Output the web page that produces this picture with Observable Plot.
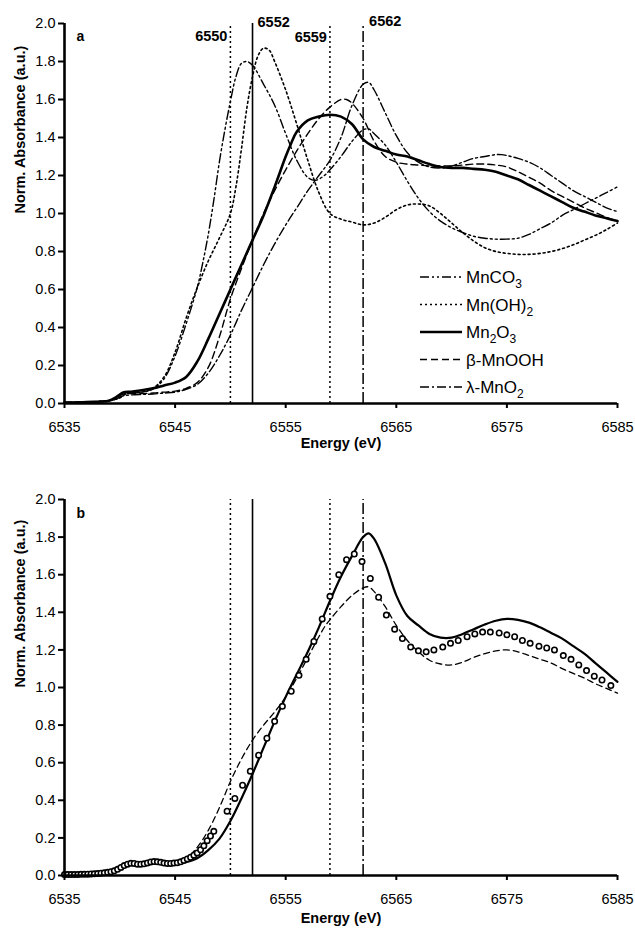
<!DOCTYPE html>
<html><head><meta charset="utf-8">
<script src="https://cdn.jsdelivr.net/npm/d3@7"></script>
<script src="https://cdn.jsdelivr.net/npm/@observablehq/plot@0.6"></script>
<style>
body{margin:0;background:#fff;}
#chart{width:635px;}
#chart svg{display:block;}
</style></head><body><div id="chart"></div>
<script>
// ---------- DATA ----------
const xTicks = [6535, 6545, 6555, 6565, 6575, 6585];
const yTicks = [0, 0.2, 0.4, 0.6, 0.8, 1.0, 1.2, 1.4, 1.6, 1.8, 2.0];
const xTitle = "Energy (eV)";
const yTitle = "Norm. Absorbance (a.u.)";
const panelLetters = ["a", "b"];
const refEnergies = [6550, 6552, 6559, 6562];
const refLabels = ["6550", "6552", "6559", "6562"];
const seriesNames = ["MnCO3", "Mn(OH)2", "Mn2O3", "β-MnOOH", "λ-MnO2"];

// panel a spectra: [energy eV, normalised absorbance]
const mnco3 = [[6535,0.005],[6537,0.008],[6539,0.015],[6540,0.03],[6540.5,0.05],[6541,0.055],[6542,0.06],[6543,0.075],[6544,0.13],[6545,0.25],[6546,0.42],[6547,0.61],[6547.5,0.74],[6548,0.89],[6548.5,1.07],[6549,1.27],[6549.5,1.44],[6550,1.59],[6550.5,1.72],[6551,1.79],[6551.5,1.80],[6552,1.78],[6553,1.68],[6554,1.57],[6555,1.42],[6556,1.28],[6557,1.19],[6557.7,1.175],[6558.5,1.20],[6559,1.23],[6560,1.30],[6561,1.38],[6562,1.44],[6562.5,1.445],[6563,1.42],[6564,1.36],[6565,1.27],[6566,1.17],[6567,1.08],[6568,1.01],[6569,0.96],[6570,0.925],[6571,0.90],[6572,0.88],[6573,0.87],[6574,0.865],[6575,0.865],[6576,0.87],[6577,0.89],[6578,0.92],[6579,0.95],[6580,0.99],[6581,1.02],[6582,1.05],[6583,1.08],[6584,1.11],[6585,1.14]];
const mnoh2 = [[6535,0.005],[6537,0.008],[6539,0.015],[6540,0.03],[6540.5,0.05],[6541,0.055],[6542,0.06],[6543,0.08],[6544,0.14],[6545,0.27],[6546,0.45],[6547,0.61],[6548,0.75],[6549,0.87],[6550,1.0],[6550.5,1.14],[6551,1.34],[6551.5,1.56],[6552,1.72],[6552.5,1.83],[6553,1.87],[6553.5,1.86],[6554,1.80],[6555,1.65],[6556,1.47],[6557,1.28],[6558,1.11],[6559,1.0],[6560,0.97],[6561,0.955],[6562,0.94],[6563,0.95],[6564,0.98],[6565,1.02],[6566,1.045],[6567,1.05],[6568,1.04],[6569,1.0],[6570,0.95],[6571,0.90],[6572,0.855],[6573,0.82],[6574,0.80],[6575,0.79],[6576,0.785],[6577,0.785],[6578,0.79],[6579,0.80],[6580,0.815],[6581,0.835],[6582,0.86],[6583,0.885],[6584,0.915],[6585,0.95]];
const mn2o3 = [[6535,0.005],[6537,0.008],[6539,0.015],[6539.7,0.035],[6540.3,0.058],[6541,0.062],[6542,0.07],[6543,0.08],[6544,0.095],[6545,0.11],[6546,0.14],[6547,0.22],[6548,0.34],[6549,0.47],[6550,0.60],[6551,0.73],[6552,0.86],[6553,0.99],[6554,1.14],[6555,1.30],[6555.5,1.37],[6556,1.43],[6557,1.49],[6558,1.51],[6559,1.52],[6560,1.51],[6561,1.47],[6562,1.39],[6563,1.35],[6564,1.33],[6565,1.31],[6566,1.30],[6567,1.28],[6568,1.26],[6569,1.245],[6570,1.24],[6571,1.24],[6572,1.235],[6573,1.23],[6574,1.22],[6575,1.20],[6576,1.18],[6577,1.15],[6578,1.12],[6579,1.09],[6580,1.06],[6581,1.03],[6582,1.01],[6583,0.99],[6584,0.975],[6585,0.96]];
const bMnooh = [[6535,0.005],[6537,0.008],[6539,0.015],[6539.7,0.03],[6540.3,0.05],[6541,0.052],[6542,0.052],[6543,0.055],[6544,0.06],[6545,0.065],[6546,0.08],[6547,0.11],[6548,0.19],[6549,0.35],[6550,0.55],[6551,0.71],[6552,0.86],[6553,1.0],[6554,1.12],[6555,1.23],[6556,1.33],[6557,1.42],[6558,1.50],[6559,1.56],[6560,1.60],[6560.5,1.60],[6561,1.58],[6562,1.50],[6563,1.38],[6564,1.30],[6565,1.27],[6566,1.26],[6567,1.255],[6568,1.25],[6569,1.25],[6570,1.25],[6571,1.255],[6572,1.26],[6573,1.26],[6574,1.255],[6575,1.245],[6576,1.22],[6577,1.19],[6578,1.16],[6579,1.12],[6580,1.09],[6581,1.06],[6582,1.03],[6583,1.005],[6584,0.98],[6585,0.96]];
const lMno2 = [[6535,0.005],[6537,0.008],[6539,0.015],[6539.7,0.025],[6540.3,0.04],[6541,0.045],[6542,0.048],[6543,0.05],[6544,0.055],[6545,0.06],[6546,0.075],[6547,0.10],[6548,0.16],[6549,0.25],[6550,0.36],[6551,0.49],[6552,0.61],[6553,0.73],[6554,0.84],[6555,0.94],[6556,1.03],[6557,1.12],[6558,1.20],[6559,1.28],[6560,1.40],[6561,1.57],[6562,1.68],[6562.5,1.69],[6563,1.65],[6564,1.53],[6565,1.41],[6566,1.32],[6567,1.27],[6568,1.245],[6569,1.24],[6570,1.25],[6571,1.27],[6572,1.29],[6573,1.30],[6574,1.31],[6574.5,1.31],[6575,1.305],[6576,1.29],[6577,1.27],[6578,1.24],[6579,1.20],[6580,1.16],[6581,1.12],[6582,1.09],[6583,1.06],[6584,1.03],[6585,1.01]];

// panel b: solid line, dashed line, open circles
const fitSolid = [[6535,0.0],[6537,0.003],[6539,0.01],[6539.7,0.025],[6540.3,0.045],[6541,0.058],[6541.8,0.055],[6543,0.065],[6544,0.06],[6545,0.062],[6546,0.072],[6547,0.092],[6548,0.135],[6549,0.195],[6550,0.29],[6551,0.41],[6552,0.54],[6553,0.68],[6554,0.82],[6555,0.95],[6556,1.07],[6557,1.19],[6558,1.32],[6559,1.46],[6560,1.59],[6561,1.70],[6562,1.80],[6562.5,1.82],[6563,1.79],[6564,1.66],[6565,1.49],[6566,1.38],[6567,1.33],[6568,1.285],[6569,1.265],[6570,1.265],[6571,1.285],[6572,1.31],[6573,1.335],[6574,1.355],[6575,1.365],[6576,1.36],[6577,1.345],[6578,1.32],[6579,1.29],[6580,1.26],[6581,1.22],[6582,1.18],[6583,1.13],[6584,1.08],[6585,1.03]];
const fitDashed = [[6535,0.0],[6537,0.003],[6539,0.01],[6539.7,0.025],[6540.3,0.045],[6541,0.058],[6541.8,0.055],[6543,0.065],[6544,0.062],[6545,0.068],[6546,0.09],[6547,0.15],[6548,0.24],[6549,0.36],[6550,0.50],[6551,0.62],[6552,0.72],[6553,0.80],[6554,0.87],[6555,0.95],[6556,1.05],[6557,1.16],[6558,1.27],[6558.6,1.33],[6559,1.36],[6560,1.43],[6561,1.49],[6562,1.53],[6562.5,1.535],[6563,1.51],[6564,1.43],[6565,1.33],[6566,1.25],[6567,1.19],[6568,1.145],[6569,1.125],[6570,1.12],[6571,1.135],[6572,1.16],[6573,1.18],[6574,1.195],[6575,1.20],[6576,1.19],[6577,1.17],[6578,1.15],[6579,1.13],[6580,1.10],[6581,1.075],[6582,1.05],[6583,1.02],[6584,0.995],[6585,0.97]];
const circE = [6535.0,6535.3,6535.6,6535.9,6536.2,6536.5,6536.8,6537.1,6537.4,6537.7,6538.0,6538.3,6538.6,6538.9,6539.2,6539.5,6539.8,6540.1,6540.4,6540.7,6541.0,6541.3,6541.6,6541.9,6542.2,6542.5,6542.8,6543.1,6543.4,6543.7,6544.0,6544.3,6544.6,6544.9,6545.2,6545.5,6545.8,6546.1,6546.4,6546.7,6547.0,6547.3,6547.6,6547.9,6548.2,6548.5,
  6549.7,6550.4,6551.1,6551.8,6552.55,6553.3,6554.0,6554.7,6555.5,6556.2,6556.85,6557.55,6558.3,6559.0,6559.8,6560.5,6561.2,6561.9,6562.65,6563.4,6564.1,6564.85,6565.55,6566.3,6567.0,6567.7,6568.4,6569.2,6569.9,6570.6,6571.4,6572.1,6572.8,6573.5,6574.3,6575.0,6575.7,6576.4,6577.1,6577.9,6578.6,6579.3,6580.1,6580.8,6581.5,6582.2,6582.9,6583.6,6584.4];
const circV = [0.005,0.005,0.005,0.005,0.005,0.006,0.006,0.007,0.008,0.009,0.010,0.012,0.014,0.017,0.020,0.025,0.033,0.043,0.053,0.060,0.065,0.064,0.060,0.060,0.062,0.067,0.072,0.074,0.073,0.070,0.066,0.064,0.064,0.066,0.068,0.073,0.080,0.088,0.097,0.108,0.120,0.137,0.158,0.185,0.210,0.235,
  0.342,0.41,0.48,0.555,0.64,0.73,0.82,0.90,0.98,1.065,1.15,1.245,1.365,1.485,1.60,1.68,1.71,1.67,1.58,1.48,1.385,1.31,1.26,1.215,1.195,1.19,1.20,1.215,1.235,1.25,1.27,1.285,1.295,1.295,1.29,1.28,1.27,1.25,1.235,1.22,1.21,1.20,1.17,1.15,1.12,1.09,1.06,1.04,1.01];

// ---------- STYLES ----------
const FONT = "'Liberation Sans', Arial, Helvetica, sans-serif";
const seriesStyle = {
  "MnCO3":   {dash: "9,3,2,3,2,3", width: 1.4},
  "Mn(OH)2": {dash: "2,3", width: 1.6},
  "Mn2O3":   {dash: null, width: 2.6},
  "β-MnOOH": {dash: "7,4", width: 1.4},
  "λ-MnO2":  {dash: "9,3,2,3", width: 1.4}
};
const refStyle = [
  {dash: "2,3", width: 1.5, anchor: "end", dx: -3, ly: 1.91},
  {dash: null, width: 1.6, anchor: "start", dx: 5, ly: 1.98},
  {dash: "2,3", width: 1.5, anchor: "end", dx: -3, ly: 1.905},
  {dash: "11,3,2,3", width: 1.5, anchor: "start", dx: 6, ly: 1.985}
];

const toRows = arr => arr.map(([e, v]) => ({e, v}));
const seriesData = [mnco3, mnoh2, mn2o3, bMnooh, lMno2].map(toRows);
const circles = circE.map((e, i) => ({e, v: circV[i]}));

function frameMarks(opts) {
  return [
    Plot.axisX({ticks: xTicks, tickSize: 5, tickPadding: 13, tickFormat: d => String(d), strokeWidth: 2, label: null}),
    Plot.axisY({ticks: yTicks, tickSize: 6, tickPadding: 3, tickFormat: d => d.toFixed(1), strokeWidth: 2, label: null}),
    Plot.ruleY([0], {stroke: "#000", strokeWidth: 2.6}),
    Plot.ruleX([6535], {stroke: "#000", strokeWidth: 2.6}),
    Plot.text([xTitle], {text: d => d, frameAnchor: "bottom", dy: opts.xTitleDy, fontWeight: "bold", fontSize: 14.5}),
    Plot.text([yTitle], {text: d => d, frameAnchor: "left", rotate: -90, dx: -44, fontWeight: "bold", fontSize: 14.5}),
    Plot.text([opts.letter], {text: d => d, frameAnchor: "top-left", textAnchor: "start", lineAnchor: "bottom", dx: 12, dy: opts.letterDy, fontWeight: "bold", fontSize: 14})
  ];
}

function refRules(withLabels) {
  const marks = refEnergies.map((e, i) => Plot.ruleX([e], {y1: 0, y2: 2, stroke: "#000", strokeWidth: refStyle[i].width, strokeDasharray: refStyle[i].dash}));
  if (withLabels) {
    refEnergies.forEach((e, i) => {
      marks.push(Plot.text([{e, t: refLabels[i]}], {x: "e", y: () => refStyle[i].ly, text: "t", textAnchor: refStyle[i].anchor, lineAnchor: "bottom", dx: refStyle[i].dx, fontWeight: "bold", fontSize: 14.5}));
    });
  }
  return marks;
}

const common = {
  width: 635, marginLeft: 64, marginRight: 18,
  x: {domain: [6535, 6585]}, y: {domain: [0, 2]},
  style: {fontFamily: FONT, fontSize: "14.5px", color: "#000", background: "#fff", overflow: "visible"}
};

// Panel a
const plotA = Plot.plot({
  ...common, height: 460, marginTop: 23, marginBottom: 57,
  marks: [
    ...refRules(true),
    ...seriesData.map((d, i) => {
      const s = seriesStyle[seriesNames[i]];
      return Plot.line(d, {x: "e", y: "v", stroke: "#000", strokeWidth: s.width, strokeDasharray: s.dash, curve: "catmull-rom"});
    }),
    ...frameMarks({letter: panelLetters[0], letterDy: 17, xTitleDy: 44})
  ]
});

// Panel b
const plotB = Plot.plot({
  ...common, height: 470, marginTop: 39, marginBottom: 55,
  marks: [
    ...refRules(false),
    Plot.line(toRows(fitDashed), {x: "e", y: "v", stroke: "#000", strokeWidth: 1.3, strokeDasharray: "6,4", curve: "catmull-rom"}),
    Plot.line(toRows(fitSolid), {x: "e", y: "v", stroke: "#000", strokeWidth: 2.2, curve: "catmull-rom"}),
    Plot.dot(circles, {x: "e", y: "v", r: 2.7, stroke: "#000", strokeWidth: 1.6, fill: "#fff"}),
    ...frameMarks({letter: panelLetters[1], letterDy: 18, xTitleDy: 47})
  ]
});

const chart = document.getElementById("chart");
chart.appendChild(plotA);
chart.appendChild(plotB);

// Legend for panel a (inside the plot area, lower right)
const legX = 420, legY = 277, rowH = 27.5;
const leg = d3.select(plotA).append("g").attr("font-family", FONT).attr("font-size", 17).attr("text-anchor", "start");
seriesNames.forEach((name, i) => {
  const s = seriesStyle[name];
  const y = legY + i * rowH;
  leg.append("line").attr("x1", legX).attr("x2", legX + 42).attr("y1", y).attr("y2", y)
    .attr("stroke", "#000").attr("stroke-width", s.width).attr("stroke-dasharray", s.dash);
  const t = leg.append("text").attr("x", legX + 46).attr("y", y).attr("dy", "0.36em")
    .attr("fill", "#000").attr("text-anchor", "start");
  const parts = name.split(/(\d+)/).filter(p => p.length);
  let shifted = false;
  parts.forEach(p => {
    if (/^\d+$/.test(p)) {
      t.append("tspan").attr("dy", 5).attr("font-size", 12).text(p);
      shifted = true;
    } else {
      const sp = t.append("tspan").text(p);
      if (shifted) { sp.attr("dy", -5); shifted = false; }
    }
  });
});
</script>
</body></html>
